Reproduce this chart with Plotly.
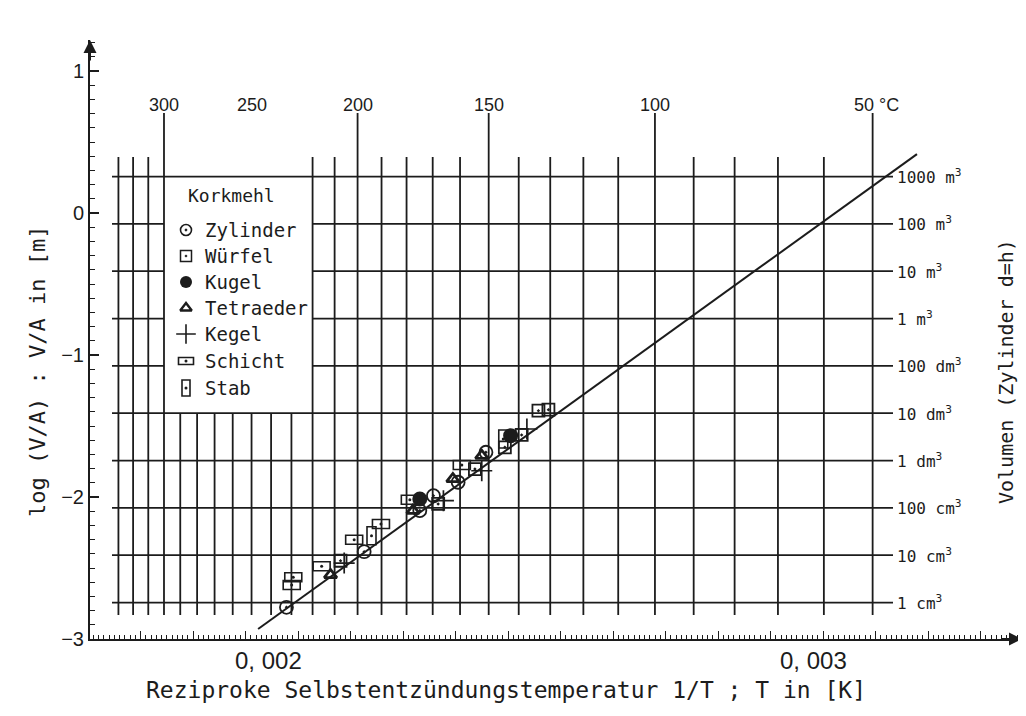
import math
import plotly.graph_objects as go

# ---------------- data ----------------
zyl_x = [0.001978, 0.002126, 0.002232, 0.002258, 0.002305, 0.002358]
zyl_y = [-2.777, -2.385, -2.096, -1.991, -1.896, -1.685]

wuerfel_x = [0.002081, 0.002267, 0.002337, 0.002394, 0.002426, 0.002458, 0.002477]
wuerfel_y = [-2.449, -2.049, -1.803, -1.650, -1.563, -1.392, -1.385]

kugel_x = [0.002232, 0.002405]
kugel_y = [-2.014, -1.568]

tetra_x = [0.002062, 0.002219, 0.002295, 0.002350]
tetra_y = [-2.549, -2.096, -1.873, -1.709]

kegel_x = [0.002088, 0.002277, 0.002350, 0.002436]
kegel_y = [-2.465, -2.026, -1.815, -1.521]

schicht_x = [0.001991, 0.001988, 0.002045, 0.002107, 0.002158, 0.002213, 0.002312]
schicht_y = [-2.565, -2.620, -2.488, -2.301, -2.190, -2.019, -1.775]

stab_x = [0.002140, 0.002391]
stab_y = [-2.273, -1.592]

fit_x = [0.001924, 0.003179]
fit_y = [-2.930, 0.415]

grid_temps_c = [330, 320, 310, 300, 290, 280, 270, 260, 250, 240, 230, 220, 210, 200,
                190, 180, 170, 160, 150, 140, 130, 120, 110, 100, 90, 80, 70, 60, 50]
temp_labels = [300, 250, 200, 150, 100, 50]
temp_label_text = ["300", "250", "200", "150", "100", "50 \u00b0C"]

volumes_m3 = [1000, 100, 10, 1, 0.1, 0.01, 0.001, 1e-4, 1e-5, 1e-6]
volume_labels = ["1000 m<sup>3</sup>", "100 m<sup>3</sup>", "10 m<sup>3</sup>", "1 m<sup>3</sup>",
                 "100 dm<sup>3</sup>", "10 dm<sup>3</sup>", "1 dm<sup>3</sup>",
                 "100 cm<sup>3</sup>", "10 cm<sup>3</sup>", "1 cm<sup>3</sup>"]

ytick_vals = [1, 0, -1, -2, -3]
ytick_text = ["1", "0", "\u22121", "\u22122", "\u22123"]
xtick_vals = [0.002, 0.003]
xtick_text = ["0, 002", "0, 003"]

legend_title = "Korkmehl"
legend_names = ["Zylinder", "W\u00fcrfel", "Kugel", "Tetraeder", "Kegel", "Schicht", "Stab"]

# ---------------- layout geometry ----------------
# the page adds an 8 px body margin, so the figure is made 8 px smaller
OFF = 8
W, H = 1026 - OFF, 716 - OFF
ML_R, MT_R, PR_R, PB_R = 90, 40, 1022, 639      # plot box in page pixels
ML, MT = ML_R - OFF, MT_R - OFF
MR, MB = W - (PR_R - OFF), H - (PB_R - OFF)
PX0, PY0 = 823, 213      # page pixel of x=0.003 and y=0
KX, KY = 525000.0, 142.0


def px2x(px):
    return 0.003 + (px - PX0) / KX


def py2y(py):
    return (PY0 - py) / KY


def paper_x(px):
    return (px - ML_R) / (PR_R - ML_R)


def paper_y(py):
    return (PB_R - py) / (PB_R - MT_R)


def t2x(tc):
    return 1.0 / (tc + 273.15)


def v2y(v):
    d = (4.0 * v / math.pi) ** (1.0 / 3.0)
    return math.log10(d / 6.0)


x_range = [px2x(ML_R), px2x(PR_R)]
y_range = [-3, py2y(MT_R)]

INK = "#1c1c1c"
MONO = "DejaVu Sans Mono"
SANS = "Liberation Sans"

leg_x0, leg_x1 = t2x(300), t2x(220)
leg_ytop, leg_ybot = v2y(1000), v2y(0.01)

h_left, h_right = px2x(112), px2x(893)
v_bot, v_top, v_top_long = py2y(615), py2y(157), py2y(113)

fig = go.Figure()

# vertical grid lines (temperatures)
gx, gy = [], []
for tc in grid_temps_c:
    x = t2x(tc)
    top = v_top_long if tc in temp_labels else v_top
    if leg_x0 < x < leg_x1:
        top = leg_ybot
    gx += [x, x, None]
    gy += [v_bot, top, None]
# horizontal grid lines (volumes)
for v in volumes_m3:
    y = v2y(v)
    if leg_ybot < y < leg_ytop:
        gx += [h_left, leg_x0, None, leg_x1, h_right, None]
        gy += [y, y, None, y, y, None]
    else:
        gx += [h_left, h_right, None]
        gy += [y, y, None]
fig.add_trace(go.Scatter(x=gx, y=gy, mode="lines", line=dict(color=INK, width=1.8),
                         hoverinfo="skip", showlegend=False))

# regression line
fig.add_trace(go.Scatter(x=fit_x, y=fit_y, mode="lines", line=dict(color=INK, width=2),
                         showlegend=False))

mk_line = dict(color=INK, width=1.8)
fig.add_trace(go.Scatter(x=zyl_x, y=zyl_y, mode="markers", showlegend=False,
                         marker=dict(symbol="circle-open-dot", size=13, color=INK, line=mk_line)))
fig.add_trace(go.Scatter(x=wuerfel_x, y=wuerfel_y, mode="markers", showlegend=False,
                         marker=dict(symbol="square-open-dot", size=12, color=INK, line=mk_line)))
fig.add_trace(go.Scatter(x=kugel_x, y=kugel_y, mode="markers", showlegend=False,
                         marker=dict(symbol="circle", size=15, color=INK)))
fig.add_trace(go.Scatter(x=tetra_x, y=tetra_y, mode="markers", showlegend=False,
                         marker=dict(symbol="triangle-up-open", size=11, color=INK,
                                     line=dict(color=INK, width=2.8))))
fig.add_trace(go.Scatter(x=kegel_x, y=kegel_y, mode="markers", showlegend=False,
                         marker=dict(symbol="cross-thin-open", size=15, color=INK,
                                     line=dict(color=INK, width=1.7))))
fig.add_trace(go.Scatter(x=schicht_x + stab_x, y=schicht_y + stab_y, mode="markers",
                         showlegend=False, marker=dict(symbol="circle", size=3, color=INK)))

shapes = []


def rect_marker(x, y, w, h):
    return dict(type="rect", xref="x", yref="y", xsizemode="pixel", ysizemode="pixel",
                xanchor=x, yanchor=y, x0=-w / 2, x1=w / 2, y0=-h / 2, y1=h / 2,
                line=dict(color=INK, width=1.6), fillcolor="rgba(0,0,0,0)", layer="above")


for x, y in zip(schicht_x, schicht_y):
    shapes.append(rect_marker(x, y, 17, 9))
for x, y in zip(stab_x, stab_y):
    shapes.append(rect_marker(x, y, 9, 18))

# ---------------- legend (hand built) ----------------
ann = []


def text(x, y, s, size, family=MONO, xref="x", yref="y", xanchor="center", angle=0, xshift=0):
    return dict(x=x, y=y, xref=xref, yref=yref, text=s, showarrow=False,
                xanchor=xanchor, yanchor="middle", textangle=angle, xshift=xshift,
                font=dict(family=family, size=size, color=INK))


sym_x, txt_x = px2x(186), px2x(203)
row_py = [230, 256, 282, 308, 334, 361, 388]
ann.append(text(px2x(231), py2y(195), legend_title, 18))
for name, py in zip(legend_names, row_py):
    ann.append(text(txt_x, py2y(py), name, 19, xanchor="left"))
leg_sym = [("circle-open-dot", 11, 1.6), ("square-open-dot", 11, 1.5), ("circle", 12, 0),
           ("triangle-up-open", 10, 2.4), ("cross-thin-open", 14, 1.6)]
for (sym, size, lw), py in zip(leg_sym, row_py[:5]):
    fig.add_trace(go.Scatter(x=[sym_x], y=[py2y(py)], mode="markers", showlegend=False,
                             marker=dict(symbol=sym, size=size, color=INK,
                                         line=dict(color=INK, width=lw))))
shapes.append(rect_marker(sym_x, py2y(row_py[5]), 15, 7))
shapes.append(rect_marker(sym_x, py2y(row_py[6]), 8, 16))
fig.add_trace(go.Scatter(x=[sym_x, sym_x], y=[py2y(row_py[5]), py2y(row_py[6])], mode="markers",
                         showlegend=False, marker=dict(symbol="circle", size=3, color=INK)))

# ---------------- scale texts ----------------
for tc, txt in zip(temp_labels, temp_label_text):
    ann.append(text(t2x(tc), py2y(105), txt, 18, family=SANS, xshift=(4 if tc == 50 else 0)))
for v, txt in zip(volumes_m3, volume_labels):
    ann.append(text(px2x(895), v2y(v), txt, 16, xanchor="left"))
for xv, txt, sh in zip(xtick_vals, xtick_text, [-30, -10]):
    ann.append(text(xv, paper_y(660), txt, 24, family=SANS, yref="paper", xshift=sh))

# axis titles
ann.append(text(paper_x(506), paper_y(690),
                "Reziproke Selbstentz\u00fcndungstemperatur 1/T ; T in [K]", 23,
                xref="paper", yref="paper"))
ann.append(text(paper_x(37), paper_y(372), "log (V/A) : V/A in [m]", 22,
                xref="paper", yref="paper", angle=-90))
ann.append(text(paper_x(1006), paper_y(372), "Volumen (Zylinder d=h)", 20,
                xref="paper", yref="paper", angle=-90))

# axis arrows
ann.append(dict(x=0, y=1, xref="paper", yref="paper", ax=0, ay=22, text="", showarrow=True,
                arrowhead=2, arrowsize=1.3, arrowwidth=2, arrowcolor=INK))
ann.append(dict(x=1, y=0, xref="paper", yref="paper", ax=-22, ay=0, text="", showarrow=True,
                arrowhead=2, arrowsize=1.3, arrowwidth=2, arrowcolor=INK))

fig.update_layout(
    width=W, height=H,
    margin=dict(l=ML, r=MR, t=MT, b=MB),
    paper_bgcolor="white", plot_bgcolor="white",
    showlegend=False,
    shapes=shapes,
    annotations=ann,
    xaxis=dict(range=x_range, showgrid=False, zeroline=False, showline=True,
               linecolor=INK, linewidth=2, ticks="inside", ticklen=8, tickwidth=1.4,
               tickcolor=INK, tick0=0.002, dtick=0.0001, showticklabels=False,
               minor=dict(ticks="inside", ticklen=4, tickwidth=1.1, tickcolor=INK,
                          dtick=0.00001, showgrid=False)),
    yaxis=dict(range=y_range, showgrid=False, zeroline=False, showline=True,
               linecolor=INK, linewidth=2, ticks="inside", ticklen=9, tickwidth=1.5,
               tickcolor=INK, tickvals=ytick_vals, ticktext=ytick_text,
               tickfont=dict(family=SANS, size=20, color=INK),
               minor=dict(ticks="inside", ticklen=5, tickwidth=1.2, tickcolor=INK,
                          dtick=0.1, tick0=0, showgrid=False)),
)

fig.write_html("out.html")
